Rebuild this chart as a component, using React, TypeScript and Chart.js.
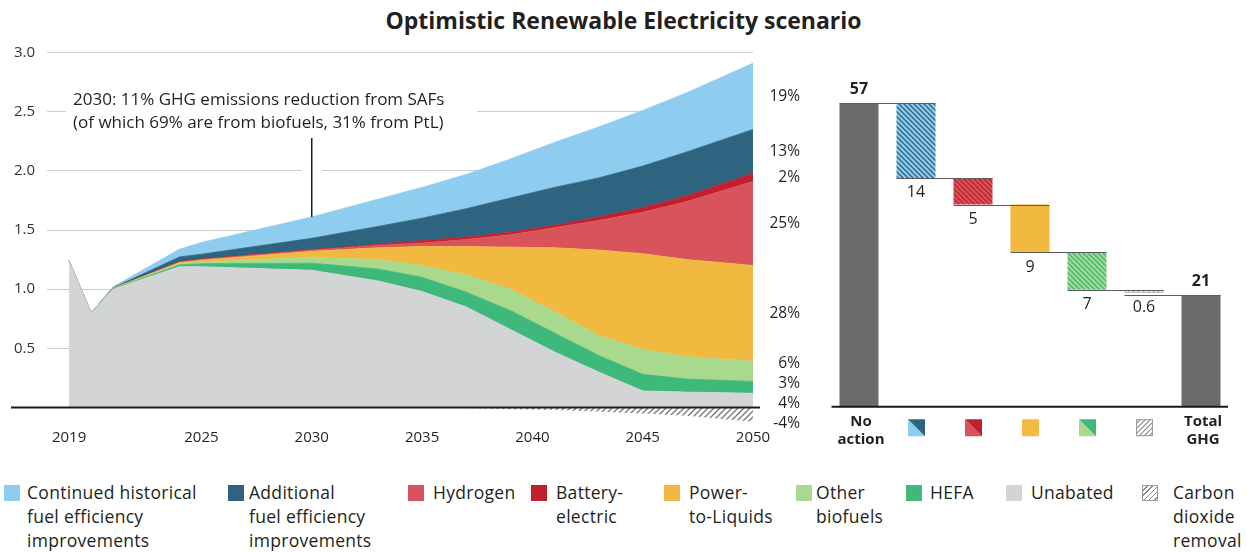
import React, { useEffect, useRef } from 'react';
import { Chart, registerables } from 'chart.js';

Chart.register(...registerables);

const FONT = '"Open Sans", Roboto, "Noto Sans", Arial, sans-serif';
const INK = '#231f20';

// ---------- Left chart: emissions by abatement lever (stacked) ----------
const YEARS = [2019, 2020, 2021, 2024, 2025, 2030, 2033, 2035, 2037, 2039, 2041, 2043, 2045, 2047, 2050];
const UNABATED = [1.24, 0.8, 1.0, 1.19, 1.19, 1.16, 1.07, 0.98, 0.85, 0.66, 0.47, 0.3, 0.14, 0.13, 0.12];
const HEFA = [0, 0, 0.003, 0.015, 0.025, 0.06, 0.1, 0.12, 0.125, 0.16, 0.16, 0.14, 0.14, 0.11, 0.1];
const OTHER_BIOFUELS = [0, 0, 0.003, 0.01, 0.015, 0.05, 0.08, 0.1, 0.145, 0.18, 0.18, 0.17, 0.21, 0.19, 0.17];
const POWER_TO_LIQUIDS = [0, 0, 0.002, 0.01, 0.015, 0.05, 0.1, 0.16, 0.24, 0.355, 0.54, 0.72, 0.81, 0.82, 0.81];
const HYDROGEN = [0, 0, 0, 0.003, 0.005, 0.01, 0.02, 0.03, 0.06, 0.105, 0.17, 0.25, 0.35, 0.49, 0.71];
const BATTERY_ELECTRIC = [0, 0, 0, 0.004, 0.005, 0.005, 0.01, 0.02, 0.02, 0.02, 0.02, 0.03, 0.04, 0.05, 0.07];
const ADDITIONAL_EFFICIENCY = [0, 0, 0.004, 0.04, 0.04, 0.095, 0.15, 0.19, 0.24, 0.29, 0.32, 0.33, 0.35, 0.37, 0.37];
const CONTINUED_EFFICIENCY = [0, 0, 0.008, 0.065, 0.1, 0.18, 0.23, 0.26, 0.29, 0.33, 0.38, 0.43, 0.47, 0.5, 0.56];
const CARBON_REMOVAL = [0, 0, 0, 0, 0, 0, 0, 0, -0.004, -0.014, -0.022, -0.036, -0.05, -0.07, -0.12];

// 2050 shares, in stacking order (unabated ... continued), then carbon removal
const SHARES_2050 = ['4%', '3%', '6%', '28%', '25%', '2%', '13%', '19%'];
const SHARE_CDR_2050 = '-4%';

const X_TICKS = [2019, 2025, 2030, 2035, 2040, 2045, 2050];
const Y_TICKS = [0.5, 1.0, 1.5, 2.0, 2.5, 3.0];

const NOTE_YEAR = 2030;
const NOTE_LINES = ['2030: 11% GHG emissions reduction from SAFs', '(of which 69% are from biofuels, 31% from PtL)'];

const TITLE = 'Optimistic Renewable Electricity scenario';

// ---------- Right chart: waterfall ----------
const WF_CATEGORIES = ['No action', 'Fuel efficiency', 'Hydrogen & battery-electric', 'Power-to-Liquids', 'Biofuels', 'Carbon dioxide removal', 'Total GHG'];
const WF_VALUES = [57, 14, 5, 9, 7, 0.6, 21];
const WF_AXIS_TEXT = [['No', 'action'], null, null, null, null, null, ['Total', 'GHG']];

// ---------- Legend ----------
const LEGEND_LABELS = [
  ['Continued historical', 'fuel efficiency', 'improvements'],
  ['Additional', 'fuel efficiency', 'improvements'],
  ['Hydrogen'],
  ['Battery-', 'electric'],
  ['Power-', 'to-Liquids'],
  ['Other', 'biofuels'],
  ['HEFA'],
  ['Unabated'],
  ['Carbon', 'dioxide', 'removal'],
];

const COL = {
  continued: '#8ecdf0',
  additional: '#2e6480',
  hydrogen: '#d9545a',
  battery: '#c11f2d',
  ptl: '#f2b940',
  other: '#a9d98c',
  hefa: '#3fb97b',
  unabated: '#d3d4d6',
  bar: '#6b6b6d',
};

const LEGEND_STYLE = [
  { c: COL.continued, sq: 4, tx: 27 },
  { c: COL.additional, sq: 228, tx: 249 },
  { c: COL.hydrogen, sq: 408, tx: 433 },
  { c: COL.battery, sq: 531, tx: 556 },
  { c: COL.ptl, sq: 664, tx: 689 },
  { c: COL.other, sq: 796, tx: 816 },
  { c: COL.hefa, sq: 906, tx: 930 },
  { c: COL.unabated, sq: 1006, tx: 1031 },
  { c: 'hatch', sq: 1142, tx: 1173 },
];

function makePattern(bg: string | null, fg: string, dir: 'back' | 'fwd', size = 6, lw = 1.3) {
  const c = document.createElement('canvas');
  c.width = size;
  c.height = size;
  const ctx = c.getContext('2d')!;
  if (bg) {
    ctx.fillStyle = bg;
    ctx.fillRect(0, 0, size, size);
  }
  ctx.strokeStyle = fg;
  ctx.lineWidth = lw;
  ctx.beginPath();
  for (const k of [-size, 0, size]) {
    if (dir === 'back') {
      ctx.moveTo(-1, k - 1);
      ctx.lineTo(size + 1, k + size + 1);
    } else {
      ctx.moveTo(-1, k + size + 1);
      ctx.lineTo(size + 1, k - 1);
    }
  }
  ctx.stroke();
  return ctx.createPattern(c, 'repeat')!;
}

export default function App() {
  const leftRef = useRef<HTMLCanvasElement>(null);
  const rightRef = useRef<HTMLCanvasElement>(null);

  useEffect(() => {
    const layers = [
      { label: 'Unabated', data: UNABATED, color: COL.unabated },
      { label: 'HEFA', data: HEFA, color: COL.hefa },
      { label: 'Other biofuels', data: OTHER_BIOFUELS, color: COL.other },
      { label: 'Power-to-Liquids', data: POWER_TO_LIQUIDS, color: COL.ptl },
      { label: 'Hydrogen', data: HYDROGEN, color: COL.hydrogen },
      { label: 'Battery-electric', data: BATTERY_ELECTRIC, color: COL.battery },
      { label: 'Additional fuel efficiency improvements', data: ADDITIONAL_EFFICIENCY, color: COL.additional },
      { label: 'Continued historical fuel efficiency improvements', data: CONTINUED_EFFICIENCY, color: COL.continued },
    ];
    const hatchGrey = makePattern('#ffffff', '#7a7a7a', 'fwd', 6, 1.4);

    const datasets: any[] = layers.map((l, i) => ({
      label: l.label,
      data: YEARS.map((y, j) => ({ x: y, y: l.data[j] })),
      backgroundColor: l.color,
      borderColor: l.color,
      borderWidth: 0.8,
      pointRadius: 0,
      tension: 0,
      fill: i === 0 ? 'origin' : '-1',
      stack: 'main',
    }));
    datasets.push({
      label: 'Carbon dioxide removal',
      data: YEARS.map((y, j) => ({ x: y, y: CARBON_REMOVAL[j] })),
      backgroundColor: hatchGrey,
      borderColor: '#9a9a9a',
      borderWidth: 0,
      pointRadius: 0,
      tension: 0,
      fill: 'origin',
      stack: 'cdr',
    });

    const leftPlugin = {
      id: 'leftDecor',
      beforeDatasetsDraw(chart: any) {
        const { ctx } = chart;
        const xs = chart.scales.x;
        const ys = chart.scales.y;
        ctx.save();
        ctx.fillStyle = '#ffffff';
        // white box behind the note
        ctx.fillRect(66, 86, 411, 52);
        // white gap around the leader line
        const xN = xs.getPixelForValue(NOTE_YEAR);
        const idx = YEARS.indexOf(NOTE_YEAR);
        let top = 0;
        layers.forEach((l) => (top += l.data[idx]));
        ctx.fillRect(xN - 10, 138, 20, ys.getPixelForValue(top) - 138 - 6);
        ctx.restore();
      },
      afterDatasetsDraw(chart: any) {
        const { ctx, chartArea } = chart;
        const xs = chart.scales.x;
        const ys = chart.scales.y;
        ctx.save();
        // zero line
        const y0 = ys.getPixelForValue(0);
        ctx.strokeStyle = '#1a1a1a';
        ctx.lineWidth = 2;
        ctx.beginPath();
        ctx.moveTo(11, y0);
        ctx.lineTo(chartArea.right + 7, y0);
        ctx.stroke();

        // note text
        ctx.fillStyle = INK;
        ctx.font = `17px ${FONT}`;
        ctx.textAlign = 'left';
        ctx.textBaseline = 'middle';
        ctx.fillText(NOTE_LINES[0], 73, 100);
        ctx.fillText(NOTE_LINES[1], 73, 123);

        // leader line
        const xN = xs.getPixelForValue(NOTE_YEAR);
        const idx = YEARS.indexOf(NOTE_YEAR);
        let top = 0;
        layers.forEach((l) => (top += l.data[idx]));
        ctx.strokeStyle = '#222';
        ctx.lineWidth = 1.5;
        ctx.beginPath();
        ctx.moveTo(xN, 138);
        ctx.lineTo(xN, ys.getPixelForValue(top));
        ctx.stroke();

        // 2050 shares
        const last = YEARS.length - 1;
        const items: { text: string; y: number }[] = [];
        let cum = 0;
        layers.forEach((l, i) => {
          const lo = cum;
          cum += l.data[last];
          items.push({ text: SHARES_2050[i], y: ys.getPixelForValue((lo + cum) / 2) });
        });
        items.push({ text: SHARE_CDR_2050, y: ys.getPixelForValue(CARBON_REMOVAL[last] / 2) });
        items.sort((a, b) => a.y - b.y);
        const gap = 20;
        let groups = items.map((it) => ({ members: [it], center: it.y }));
        let changed = true;
        while (changed) {
          changed = false;
          for (let g = 0; g < groups.length - 1; g++) {
            const a = groups[g];
            const b = groups[g + 1];
            const aEnd = a.center + ((a.members.length - 1) * gap) / 2;
            const bStart = b.center - ((b.members.length - 1) * gap) / 2;
            if (bStart - aEnd < gap) {
              const members = a.members.concat(b.members);
              const center = members.reduce((s, m) => s + m.y, 0) / members.length;
              groups.splice(g, 2, { members, center });
              changed = true;
              break;
            }
          }
        }
        ctx.font = `15.5px ${FONT}`;
        ctx.textAlign = 'right';
        ctx.fillStyle = INK;
        groups.forEach((g) => {
          g.members.forEach((m, k) => {
            const y = g.center - ((g.members.length - 1) * gap) / 2 + k * gap;
            ctx.fillText(m.text, 800, y);
          });
        });
        ctx.restore();
      },
    };

    const left = new Chart(leftRef.current!, {
      type: 'line',
      data: { datasets },
      options: {
        responsive: false,
        animation: false,
        devicePixelRatio: 1,
        events: [],
        layout: { padding: { left: 0, right: 67, top: 52.5, bottom: 0 } },
        plugins: { legend: { display: false }, tooltip: { enabled: false } },
        scales: {
          x: {
            type: 'linear',
            min: 2018,
            max: 2050,
            afterBuildTicks: (axis: any) => {
              axis.ticks = X_TICKS.map((v) => ({ value: v }));
            },
            afterFit: (axis: any) => {
              axis.height = 34.75;
            },
            ticks: {
              autoSkip: false,
              maxRotation: 0,
              padding: 3,
              color: INK,
              font: { family: FONT, size: 15 },
              callback: (v: any) => String(v),
            },
            grid: { display: false, drawTicks: false },
            border: { display: false },
          },
          y: {
            type: 'linear',
            stacked: true,
            min: -0.15,
            max: 3,
            afterBuildTicks: (axis: any) => {
              axis.ticks = Y_TICKS.map((v) => ({ value: v }));
            },
            afterFit: (axis: any) => {
              axis.width = 47;
            },
            ticks: {
              padding: 12,
              color: '#333',
              font: { family: FONT, size: 15 },
              callback: (v: any) => Number(v).toFixed(1),
            },
            grid: { color: '#cdcdcd', lineWidth: 1, drawTicks: false },
            border: { display: false },
          },
        },
      },
      plugins: [leftPlugin],
    } as any);

    // ---------- waterfall ----------
    const ranges: [number, number][] = [];
    let level = WF_VALUES[0];
    ranges.push([0, level]);
    for (let i = 1; i < WF_VALUES.length - 1; i++) {
      ranges.push([level - WF_VALUES[i], level]);
      level -= WF_VALUES[i];
    }
    ranges.push([0, WF_VALUES[WF_VALUES.length - 1]]);

    const wfFills: any[] = [
      COL.bar,
      makePattern(COL.continued, COL.additional, 'back', 5, 1.4),
      makePattern(COL.hydrogen, COL.battery, 'back', 5, 1.4),
      COL.ptl,
      makePattern(COL.other, COL.hefa, 'back', 5, 1.4),
      makePattern('#ffffff', '#8a8a8a', 'fwd', 5, 1.2),
      COL.bar,
    ];
    const icons: any[] = [
      null,
      [COL.continued, COL.additional],
      [COL.hydrogen, COL.battery],
      [COL.ptl, COL.ptl],
      [COL.other, COL.hefa],
      'hatch',
      null,
    ];

    const rightPlugin = {
      id: 'wfDecor',
      afterDatasetsDraw(chart: any) {
        const { ctx, chartArea } = chart;
        const ys = chart.scales.y;
        const meta = chart.getDatasetMeta(0);
        const bars = meta.data.map((b: any) => {
          const p = b.getProps(['x', 'width'], true);
          return { x: p.x, l: p.x - p.width / 2, r: p.x + p.width / 2 };
        });
        ctx.save();
        // connectors
        ctx.strokeStyle = '#5a5a5a';
        ctx.lineWidth = 1.2;
        for (let i = 0; i < bars.length - 1; i++) {
          const lvl = i === 0 ? ranges[0][1] : i === bars.length - 2 ? ranges[bars.length - 1][1] : ranges[i][0];
          const y = Math.round(ys.getPixelForValue(lvl)) + 0.5;
          ctx.beginPath();
          ctx.moveTo(bars[i].l, y);
          ctx.lineTo(bars[i + 1].r, y);
          ctx.stroke();
        }
        // axis
        ctx.strokeStyle = '#1a1a1a';
        ctx.lineWidth = 2;
        ctx.beginPath();
        ctx.moveTo(chartArea.left + 1, chartArea.bottom);
        ctx.lineTo(chartArea.right - 1.5, chartArea.bottom);
        ctx.stroke();

        // value labels
        ctx.fillStyle = INK;
        ctx.textAlign = 'center';
        WF_VALUES.forEach((v, i) => {
          const isTotal = i === 0 || i === WF_VALUES.length - 1;
          if (isTotal) {
            ctx.font = `bold 16px ${FONT}`;
            ctx.textBaseline = 'bottom';
            ctx.fillText(String(v), bars[i].x, ys.getPixelForValue(ranges[i][1]) - 6);
          } else {
            ctx.font = `16px ${FONT}`;
            ctx.textBaseline = 'top';
            ctx.fillText(String(v), bars[i].x, ys.getPixelForValue(ranges[i][0]) + 7);
          }
        });

        // category labels / icons
        ctx.font = `bold 15px ${FONT}`;
        ctx.textBaseline = 'middle';
        WF_AXIS_TEXT.forEach((t, i) => {
          if (t) {
            t.forEach((line, k) => ctx.fillText(line, bars[i].x + 2, chartArea.bottom + 15 + k * 18.5));
          }
        });
        const s = 17;
        const iy = chartArea.bottom + 12.5;
        icons.forEach((ic, i) => {
          if (!ic) return;
          const ix = Math.round(bars[i].x - s / 2);
          if (ic === 'hatch') {
            ctx.fillStyle = makePattern('#ffffff', '#8a8a8a', 'fwd', 5, 1.2);
            ctx.fillRect(ix, iy, s, s);
            ctx.strokeStyle = '#9a9a9a';
            ctx.lineWidth = 1;
            ctx.strokeRect(ix + 0.5, iy + 0.5, s - 1, s - 1);
          } else {
            ctx.fillStyle = ic[0];
            ctx.beginPath();
            ctx.moveTo(ix, iy);
            ctx.lineTo(ix + s, iy + s);
            ctx.lineTo(ix, iy + s);
            ctx.closePath();
            ctx.fill();
            ctx.fillStyle = ic[1];
            ctx.beginPath();
            ctx.moveTo(ix, iy);
            ctx.lineTo(ix + s, iy);
            ctx.lineTo(ix + s, iy + s);
            ctx.closePath();
            ctx.fill();
          }
        });
        ctx.restore();
      },
    };

    const right = new Chart(rightRef.current!, {
      type: 'bar',
      data: {
        labels: WF_CATEGORIES,
        datasets: [
          {
            data: ranges,
            backgroundColor: wfFills,
            borderColor: '#8a8a8a',
            borderWidth: WF_VALUES.map((_, i) => (i === 5 ? 1 : 0)),
            borderSkipped: false,
            barPercentage: 0.684,
            categoryPercentage: 1,
          },
        ],
      },
      options: {
        responsive: false,
        animation: false,
        devicePixelRatio: 1,
        events: [],
        layout: { padding: { left: 10.5, right: 17.5, top: 71.5, bottom: 53.3 } },
        plugins: { legend: { display: false }, tooltip: { enabled: false } },
        scales: {
          x: { display: false },
          y: { display: false, min: 0, max: 63 },
        },
      },
      plugins: [rightPlugin],
    } as any);

    return () => {
      left.destroy();
      right.destroy();
    };
  }, []);

  return (
    <div style={{ position: 'absolute', left: 0, top: 0, width: 1247, height: 552, background: '#fff', fontFamily: FONT, color: INK, overflow: 'hidden' }}>
      <div style={{ position: 'absolute', left: 0, top: 6, width: 1247, textAlign: 'center', fontWeight: 700, fontSize: 23, lineHeight: '28px' }}>{TITLE}</div>
      <canvas ref={leftRef} width={820} height={460} style={{ position: 'absolute', left: 0, top: 0 }} />
      <canvas ref={rightRef} width={427} height={460} style={{ position: 'absolute', left: 820, top: 0 }} />
      {LEGEND_LABELS.map((lines, i) => {
        const st = LEGEND_STYLE[i];
        const sqStyle: any =
          st.c === 'hatch'
            ? { background: 'repeating-linear-gradient(135deg, #fff 0 2.5px, #8a8a8a 2.5px 3.7px)', border: '1px solid #9a9a9a', boxSizing: 'border-box' }
            : { background: st.c };
        return (
          <React.Fragment key={i}>
            <div style={{ position: 'absolute', left: st.sq, top: 485, width: 16, height: 16, ...sqStyle }} />
            <div style={{ position: 'absolute', left: st.tx, top: 480, fontSize: 17.5, lineHeight: '24px', letterSpacing: '0.3px', whiteSpace: 'nowrap' }}>
              {lines.map((ln, k) => (
                <div key={k}>{ln}</div>
              ))}
            </div>
          </React.Fragment>
        );
      })}
    </div>
  );
}
